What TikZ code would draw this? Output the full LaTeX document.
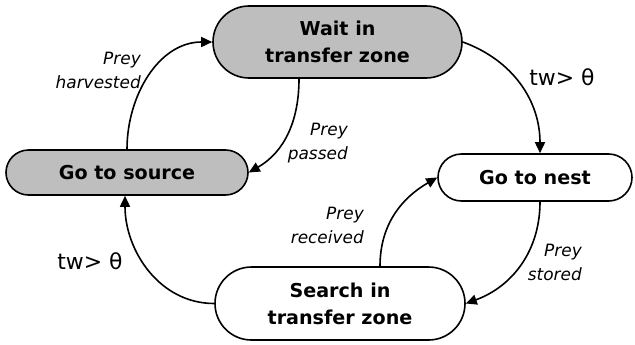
\documentclass[tikz,border=0pt]{standalone}
\usepackage{fontspec}
\setmainfont{DejaVu Sans}
\usetikzlibrary{arrows.meta}
\definecolor{stategray}{RGB}{190,190,190}
\tikzset{
  statebox/.style={draw, line width=1.6bp, align=center, inner sep=0pt,
    font=\bfseries\fontsize{19.2}{27}\selectfont},
  lbl/.style={align=right, anchor=east, inner sep=0pt,
    font=\itshape\fontsize{17}{24}\selectfont},
  cond/.style={inner sep=0pt, font=\fontsize{22}{26}\selectfont},
  edge/.style={line width=1.6bp, -{Triangle[length=11bp,width=10bp]}}
}
\begin{document}
\begin{tikzpicture}[x=1bp,y=1bp]
\useasboundingbox (0,0) rectangle (635,344);
\node[statebox, fill=stategray, minimum width=249bp, minimum height=72bp, rounded corners=36bp] (wait) at (337.5,302) {Wait in\\transfer zone};
\node[statebox, fill=stategray, minimum width=242bp, minimum height=45bp, rounded corners=22.5bp] (source) at (127,171.5) {Go to source};
\node[statebox, minimum width=194bp, minimum height=47bp, rounded corners=23.5bp] (nest) at (535,166.5) {Go to nest};
\node[statebox, minimum width=250bp, minimum height=73bp, rounded corners=36.5bp] (search) at (340,40.5) {Search in\\transfer zone};

\coordinate (waitS) at ([xshift=-38.5bp]wait.south);
\coordinate (nestN) at ([xshift=5bp]nest.north);
\coordinate (nestS) at ([xshift=5bp]nest.south);
\coordinate (searchN) at ([xshift=40bp]search.north);
\coordinate (sourceS) at ([xshift=-2bp]source.south);

\draw[edge] (source.north) to[out=90, in=180] (wait.west);
\draw[edge] (waitS) to[out=-90, in=30] (source.east);
\draw[edge] (wait.east) to[out=-20, in=90] (nestN);
\draw[edge] (nestS) to[out=-90, in=20] (search.east);
\draw[edge] (searchN) to[out=90, in=210] (nest.west);
\draw[edge] (search.west) to[out=180, in=-90] (sourceS);

\node[lbl] (lharv) at (141,274) {Prey\\harvested};
\node[lbl] (lpass) at (348,201) {Prey\\passed};
\node[lbl] (lrecv) at (364,119) {Prey\\received};
\node[lbl] (lstor) at (582,82) {Prey\\stored};
\node[cond] (tw1) at (562,267) {tw> θ};
\node[cond] (tw2) at (90,83) {tw> θ};
\end{tikzpicture}
\end{document}
